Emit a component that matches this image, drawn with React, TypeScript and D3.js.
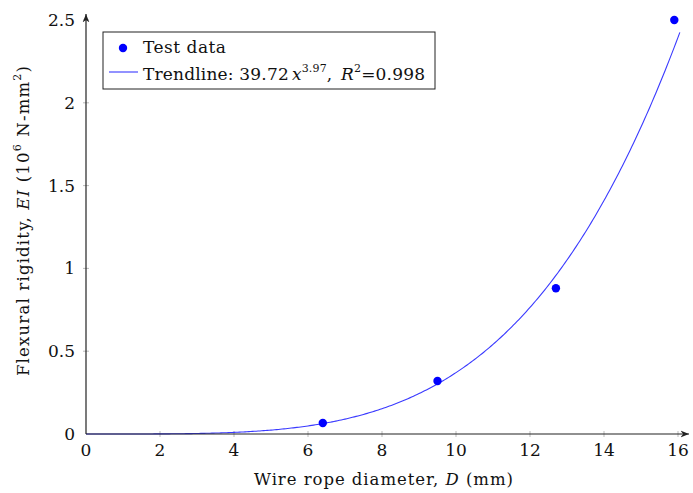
import React from "react";
import * as d3 from "d3";

// Test data (wire rope diameter in mm, EI in 10^6 N-mm^2)
const diameters = [6.4, 9.5, 12.7, 15.9];
const rigidity = [0.066, 0.32, 0.88, 2.5];
const xTicks = [0, 2, 4, 6, 8, 10, 12, 14, 16];
const yTicks = [0, 0.5, 1, 1.5, 2, 2.5];
const trendCoef = 39.72;
const trendExp = 3.97;

const FONT = "'DejaVu Serif', 'Liberation Serif', serif";

const App = () => {
  const width = 693;
  const height = 493;
  const x = d3.scaleLinear().domain([0, 16]).range([86, 678]);
  const y = d3.scaleLinear().domain([0, 2.5]).range([434, 20]);

  // Trendline EI = 39.72 D^3.97 (N-mm^2) -> 10^6 N-mm^2
  const trendX = d3.range(0, 16.08, 0.05);
  const line = d3
    .line<number>()
    .x((d) => x(d))
    .y((d) => y((trendCoef * Math.pow(d, trendExp)) / 1e6));

  return (
    <svg
      width={width}
      height={height}
      style={{ position: "absolute", left: 0, top: 0, background: "#fff" }}
      fontFamily={FONT}
    >
      <defs>
        <marker id="arr" viewBox="0 0 10 10" refX="10" refY="5" markerWidth="7" markerHeight="7" orient="auto">
          <path d="M0,1 L10,5 L0,9 L3,5 Z" fill="#222" />
        </marker>
      </defs>

      {/* ticks */}
      {xTicks.map((t) => (
        <g key={"x" + t}>
          {t > 0 && <line x1={x(t)} x2={x(t)} y1={y(0) - 3} y2={y(0) + 3} stroke="#aaa" strokeWidth={0.8} />}
          <text x={x(t)} y={y(0) + 22} textAnchor="middle" fontSize={17} fill="#111">
            {t}
          </text>
        </g>
      ))}
      {yTicks.map((t) => (
        <g key={"y" + t}>
          {t > 0 && <line x1={x(0) - 3} x2={x(0) + 3} y1={y(t)} y2={y(t)} stroke="#aaa" strokeWidth={0.8} />}
          <text x={x(0) - 11} y={y(t) + 6} textAnchor="end" fontSize={17} fill="#111">
            {t}
          </text>
        </g>
      ))}

      {/* trendline */}
      <path d={line(trendX) || ""} fill="none" stroke="#3a3aff" strokeWidth={1.1} />

      {/* axes */}
      <line x1={x(0)} y1={y(0)} x2={689} y2={y(0)} stroke="#222" strokeWidth={1.2} markerEnd="url(#arr)" />
      <line x1={x(0)} y1={y(0)} x2={x(0)} y2={14} stroke="#222" strokeWidth={1.2} markerEnd="url(#arr)" />

      {/* data points */}
      {diameters.map((d, i) => (
        <circle key={i} cx={x(d)} cy={y(rigidity[i])} r={4.2} fill="#0000ff" />
      ))}

      {/* legend */}
      <rect x={103} y={32} width={332} height={57} fill="#fff" stroke="#222" strokeWidth={1} />
      <circle cx={123} cy={48} r={4.2} fill="#0000ff" />
      <line x1={109} x2={138} y1={72} y2={72} stroke="#3a3aff" strokeWidth={1.1} />
      <text x={143} y={53} fontSize={17} fill="#111" textLength={83} lengthAdjust="spacing">
        Test data
      </text>
      <text x={143} y={80} fontSize={17} fill="#111" textLength={282} lengthAdjust="spacing">
        Trendline: 39.72
        <tspan fontStyle="italic" dx={3}>x</tspan>
        <tspan fontSize={11} dy={-8}>3.97</tspan>
        <tspan dy={8}>, </tspan>
        <tspan fontStyle="italic" dx={3}>R</tspan>
        <tspan fontSize={11} dy={-8}>2</tspan>
        <tspan dy={8}>=0.998</tspan>
      </text>

      {/* axis labels */}
      <text x={254} y={485} fontSize={16.5} fill="#111" textLength={259} lengthAdjust="spacing">
        Wire rope diameter, <tspan fontStyle="italic">D</tspan> (mm)
      </text>
      <text transform="translate(29,376) rotate(-90)" fontSize={16.5} fill="#111" textLength={310} lengthAdjust="spacing">
        Flexural rigidity, <tspan fontStyle="italic">EI</tspan> (10
        <tspan fontSize={11} dy={-8}>6</tspan>
        <tspan dy={8}> N-mm</tspan>
        <tspan fontSize={11} dy={-8}>2</tspan>
        <tspan dy={8}>)</tspan>
      </text>
    </svg>
  );
};

export default App;
